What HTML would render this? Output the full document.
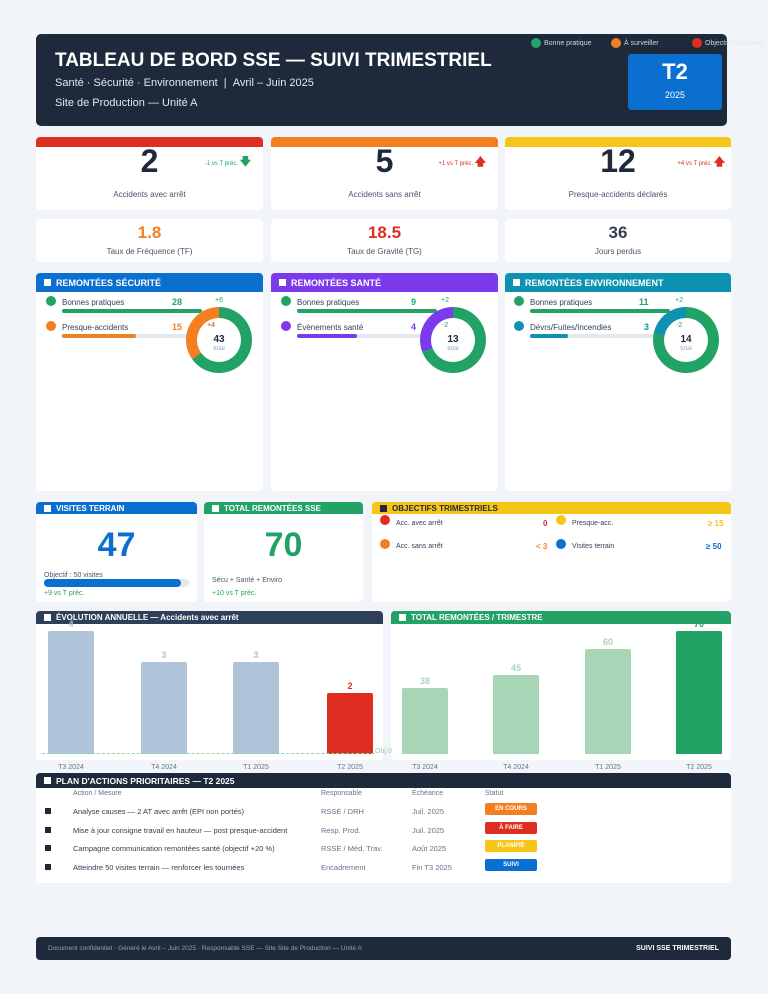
<!DOCTYPE html>
<html><head><meta charset="utf-8"><style>
*{box-sizing:border-box;margin:0;padding:0}
body{width:768px;height:994px;background:#f1f5f9;font-family:"Liberation Sans",sans-serif;position:relative;overflow:hidden;color:#1e293b}
.a{position:absolute}
.card{position:absolute;background:#fff;border-radius:4px;overflow:hidden}
.hd{position:absolute;left:0;right:0;top:0;color:#fff;font-weight:bold;font-size:9px;padding-left:8px;display:flex;align-items:center}
.sq{display:inline-block;width:7px;height:7px;background:#fff;margin-right:5px}
.c{text-align:center;left:0;right:0}
.dot{position:absolute;width:10px;height:10px;border-radius:50%}
.t{position:absolute;font-size:8px;color:#334155;white-space:nowrap}
.bar{position:absolute;height:4px;border-radius:2px;background:#e2e8f0}
.bar i{position:absolute;left:0;top:0;bottom:0;border-radius:2px}
.dn{position:absolute;width:66px;height:66px;border-radius:50%}
.dn::after{content:"";position:absolute;left:11px;top:11px;width:44px;height:44px;border-radius:50%;background:#fff}
.dl{position:absolute;z-index:2;text-align:center;width:40px}
.badge{position:absolute;width:52px;height:12px;border-radius:2px;color:#fff;font-size:6px;font-weight:bold;text-align:center;line-height:12px}
.vb{position:absolute;border-radius:2px 2px 0 0}
.vl{position:absolute;font-size:9px;font-weight:bold;text-align:center;width:46px}
.xl{position:absolute;font-size:7px;color:#64748b;text-align:center;width:60px;top:764px}
</style></head><body>

<!-- header -->
<div class="a" style="left:36px;top:34px;width:691px;height:92px;background:#1e293b;border-radius:5px"></div>
<div class="a" style="left:55px;top:50px;color:#fff;font-size:19px;font-weight:bold">TABLEAU DE BORD SSE — SUIVI TRIMESTRIEL</div>
<div class="a" style="left:55px;top:77px;color:#e2e8f0;font-size:11px">Santé · Sécurité · Environnement &nbsp;| &nbsp;Avril – Juin 2025</div>
<div class="a" style="left:55px;top:97px;color:#e2e8f0;font-size:11px">Site de Production — Unité A</div>
<div class="a" style="left:628px;top:54px;width:94px;height:56px;background:#0b6fd0;border-radius:3px;color:#fff;text-align:center">
<div style="font-size:22px;font-weight:bold;margin-top:5px">T2</div><div style="font-size:9px;margin-top:5px">2025</div></div>
<div class="dot" style="left:531px;top:38px;background:#22a365"></div><div class="t" style="left:544px;top:40px;color:#cbd5e1;font-size:7px">Bonne pratique</div>
<div class="dot" style="left:611px;top:38px;background:#f47f20"></div><div class="t" style="left:624px;top:40px;color:#cbd5e1;font-size:7px">À surveiller</div>
<div class="dot" style="left:692px;top:38px;background:#e02d22"></div><div class="t" style="left:705px;top:40px;color:#cbd5e1;font-size:7px">Objectif <span style="color:#e2e8f0">non atteint</span></div>

<!-- KPI row1 -->
<div class="card" style="left:36px;top:137px;width:227px;height:73px"><div class="a" style="left:0;right:0;top:0;height:10px;background:#e02d22"></div>
<div class="a c" style="top:143px;top:6px;font-size:32px;font-weight:bold">2</div>
<div class="a" style="right:12px;top:16px;font-size:6px;color:#22a365">-1 vs T préc. <b style="font-size:11px">&#129095;</b></div>
<div class="a c" style="top:53px;font-size:8px;color:#475569">Accidents avec arrêt</div></div>
<div class="card" style="left:271px;top:137px;width:227px;height:73px"><div class="a" style="left:0;right:0;top:0;height:10px;background:#f47f20"></div>
<div class="a c" style="top:6px;font-size:32px;font-weight:bold">5</div>
<div class="a" style="right:12px;top:16px;font-size:6px;color:#e02d22">+1 vs T préc. <b style="font-size:11px">&#129093;</b></div>
<div class="a c" style="top:53px;font-size:8px;color:#475569">Accidents sans arrêt</div></div>
<div class="card" style="left:505px;top:137px;width:226px;height:73px"><div class="a" style="left:0;right:0;top:0;height:10px;background:#f5c518"></div>
<div class="a c" style="top:6px;font-size:32px;font-weight:bold">12</div>
<div class="a" style="right:6px;top:16px;font-size:6px;color:#e02d22">+4 vs T préc. <b style="font-size:11px">&#129093;</b></div>
<div class="a c" style="top:53px;font-size:8px;color:#475569">Presque-accidents déclarés</div></div>

<!-- KPI row2 -->
<div class="card" style="left:36px;top:219px;width:227px;height:43px"><div class="a c" style="top:4px;font-size:17px;font-weight:bold;color:#f47f20">1.8</div><div class="a c" style="top:28px;font-size:8px;color:#475569">Taux de Fréquence (TF)</div></div>
<div class="card" style="left:271px;top:219px;width:227px;height:43px"><div class="a c" style="top:4px;font-size:17px;font-weight:bold;color:#e02d22">18.5</div><div class="a c" style="top:28px;font-size:8px;color:#475569">Taux de Gravité (TG)</div></div>
<div class="card" style="left:505px;top:219px;width:226px;height:43px"><div class="a c" style="top:4px;font-size:17px;font-weight:bold;color:#334155">36</div><div class="a c" style="top:28px;font-size:8px;color:#475569">Jours perdus</div></div>

<!-- Section cards -->
<div class="card" style="left:36px;top:273px;width:227px;height:218px"><div class="hd" style="height:19px;background:#0b6fd0"><span class="sq"></span>REMONTÉES SÉCURITÉ</div></div>
<div class="card" style="left:271px;top:273px;width:227px;height:218px"><div class="hd" style="height:19px;background:#7c3aed"><span class="sq"></span>REMONTÉES SANTÉ</div></div>
<div class="card" style="left:505px;top:273px;width:226px;height:218px"><div class="hd" style="height:19px;background:#0e92b1"><span class="sq"></span>REMONTÉES ENVIRONNEMENT</div></div>

<!-- sec 1 -->
<div class="dot" style="left:46px;top:296px;background:#22a365"></div><div class="t" style="left:62px;top:298px">Bonnes pratiques</div><div class="t" style="left:172px;top:297px;font-weight:bold;color:#22a365;font-size:9px">28</div>
<div class="bar" style="left:62px;top:309px;width:140px"><i style="width:140px;background:#22a365"></i></div>
<div class="dot" style="left:46px;top:321px;background:#f47f20"></div><div class="t" style="left:62px;top:323px">Presque-accidents</div><div class="t" style="left:172px;top:322px;font-weight:bold;color:#f47f20;font-size:9px">15</div>
<div class="bar" style="left:62px;top:334px;width:140px"><i style="width:74px;background:#f47f20"></i></div>
<div class="dn" style="left:186px;top:307px;background:conic-gradient(#22a365 0 234deg,#f47f20 234deg 360deg)"></div>
<div class="dl" style="left:199px;top:297px;font-size:7px;color:#22a365">+6</div>
<div class="dl" style="left:191px;top:322px;font-size:7px;color:#e02d22">+4</div>
<div class="dl" style="left:199px;top:334px;font-size:10px;font-weight:bold">43</div>
<div class="dl" style="left:199px;top:346px;font-size:6px;color:#94a3b8">total</div>

<!-- sec 2 -->
<div class="dot" style="left:281px;top:296px;background:#22a365"></div><div class="t" style="left:297px;top:298px">Bonnes pratiques</div><div class="t" style="left:411px;top:297px;font-weight:bold;color:#22a365;font-size:9px">9</div>
<div class="bar" style="left:297px;top:309px;width:140px"><i style="width:140px;background:#22a365"></i></div>
<div class="dot" style="left:281px;top:321px;background:#7c3aed"></div><div class="t" style="left:297px;top:323px">Évènements santé</div><div class="t" style="left:411px;top:322px;font-weight:bold;color:#7c3aed;font-size:9px">4</div>
<div class="bar" style="left:297px;top:334px;width:140px"><i style="width:60px;background:#7c3aed"></i></div>
<div class="dn" style="left:420px;top:307px;background:conic-gradient(#22a365 0 249deg,#7c3aed 249deg 360deg)"></div>
<div class="dl" style="left:425px;top:297px;font-size:7px;color:#22a365">+2</div>
<div class="dl" style="left:425px;top:322px;font-size:7px;color:#22a365">-2</div>
<div class="dl" style="left:433px;top:334px;font-size:10px;font-weight:bold">13</div>
<div class="dl" style="left:433px;top:346px;font-size:6px;color:#94a3b8">total</div>

<!-- sec 3 -->
<div class="dot" style="left:514px;top:296px;background:#22a365"></div><div class="t" style="left:530px;top:298px">Bonnes pratiques</div><div class="t" style="left:639px;top:297px;font-weight:bold;color:#22a365;font-size:9px">11</div>
<div class="bar" style="left:530px;top:309px;width:140px"><i style="width:140px;background:#22a365"></i></div>
<div class="dot" style="left:514px;top:321px;background:#0e92b1"></div><div class="t" style="left:530px;top:323px">Dévrs/Fuites/Incendies</div><div class="t" style="left:644px;top:322px;font-weight:bold;color:#0e92b1;font-size:9px">3</div>
<div class="bar" style="left:530px;top:334px;width:140px"><i style="width:38px;background:#0e92b1"></i></div>
<div class="dn" style="left:653px;top:307px;background:conic-gradient(#22a365 0 283deg,#0e92b1 283deg 360deg)"></div>
<div class="dl" style="left:659px;top:297px;font-size:7px;color:#22a365">+2</div>
<div class="dl" style="left:659px;top:322px;font-size:7px;color:#22a365">-2</div>
<div class="dl" style="left:666px;top:334px;font-size:10px;font-weight:bold">14</div>
<div class="dl" style="left:666px;top:346px;font-size:6px;color:#94a3b8">total</div>

<!-- row 3 -->
<div class="card" style="left:36px;top:502px;width:161px;height:100px"><div class="hd" style="height:12px;background:#0b6fd0;font-size:8px"><span class="sq"></span>VISITES TERRAIN</div>
<div class="a c" style="top:24px;font-size:34px;font-weight:bold;color:#0b6fd0">47</div>
<div class="a" style="left:8px;top:70px;font-size:7px;color:#475569">Objectif : 50 visites</div>
<div class="a" style="left:8px;top:77px;width:145px;height:8px;border-radius:4px;background:#e2e8f0"><div style="width:137px;height:8px;border-radius:4px;background:#0b6fd0"></div></div>
<div class="a" style="left:8px;top:88px;font-size:7px;color:#22a365">+9 vs T préc.</div></div>
<div class="card" style="left:204px;top:502px;width:159px;height:100px"><div class="hd" style="height:12px;background:#22a365;font-size:8px"><span class="sq"></span>TOTAL REMONTÉES SSE</div>
<div class="a c" style="top:24px;font-size:34px;font-weight:bold;color:#22a365">70</div>
<div class="a" style="left:8px;top:75px;font-size:7px;color:#475569">Sécu + Santé + Enviro</div>
<div class="a" style="left:8px;top:88px;font-size:7px;color:#22a365">+10 vs T préc.</div></div>
<div class="card" style="left:372px;top:502px;width:359px;height:100px"><div class="hd" style="height:12px;background:#f5c518;font-size:8px;color:#1e293b"><span class="sq" style="background:#1e293b"></span>OBJECTIFS TRIMESTRIELS</div>
<div class="dot" style="left:8px;top:13px;background:#e02d22"></div><div class="t" style="left:24px;top:18px;font-size:7px">Acc. avec arrêt</div><div class="t" style="left:171px;top:17px;font-size:8px;font-weight:bold;color:#e02d22">0</div>
<div class="dot" style="left:184px;top:13px;background:#f5c518"></div><div class="t" style="left:200px;top:18px;font-size:7px">Presque-acc.</div><div class="t" style="left:336px;top:17px;font-size:8px;font-weight:bold;color:#f5c518">≥ 15</div>
<div class="dot" style="left:8px;top:37px;background:#f47f20"></div><div class="t" style="left:24px;top:41px;font-size:7px">Acc. sans arrêt</div><div class="t" style="left:164px;top:40px;font-size:8px;font-weight:bold;color:#f47f20">˂ 3</div>
<div class="dot" style="left:184px;top:37px;background:#0b6fd0"></div><div class="t" style="left:200px;top:41px;font-size:7px">Visites terrain</div><div class="t" style="left:334px;top:40px;font-size:8px;font-weight:bold;color:#0b6fd0">≥ 50</div></div>

<!-- charts -->
<div class="card" style="left:36px;top:611px;width:347px;height:149px"><div class="hd" style="height:13px;background:#2e3f5a;font-size:8px"><span class="sq"></span>ÉVOLUTION ANNUELLE — Accidents avec arrêt</div></div>
<div class="card" style="left:391px;top:611px;width:340px;height:149px"><div class="hd" style="height:13px;background:#22a365;font-size:8px"><span class="sq"></span>TOTAL REMONTÉES / TRIMESTRE</div></div>

<div class="vb" style="left:48px;top:631px;width:46px;height:123px;background:#b0c4d9"></div><div class="vl" style="left:48px;top:619px;color:#b0c4d9">4</div>
<div class="vb" style="left:141px;top:662px;width:46px;height:92px;background:#b0c4d9"></div><div class="vl" style="left:141px;top:650px;color:#b0c4d9">3</div>
<div class="vb" style="left:233px;top:662px;width:46px;height:92px;background:#b0c4d9"></div><div class="vl" style="left:233px;top:650px;color:#b0c4d9">3</div>
<div class="vb" style="left:327px;top:693px;width:46px;height:61px;background:#e02d22"></div><div class="vl" style="left:327px;top:681px;color:#e02d22">2</div>
<div class="a" style="left:42px;top:753px;width:332px;border-top:1.5px dashed #8fd1ad"></div>
<div class="a" style="left:375px;top:748px;font-size:7px;color:#8fd1ad">Obj.0</div>

<div class="vb" style="left:402px;top:688px;width:46px;height:66px;background:#a8d5b5"></div><div class="vl" style="left:402px;top:676px;color:#a8d5b5">38</div>
<div class="vb" style="left:493px;top:675px;width:46px;height:79px;background:#a8d5b5"></div><div class="vl" style="left:493px;top:663px;color:#a8d5b5">45</div>
<div class="vb" style="left:585px;top:649px;width:46px;height:105px;background:#a8d5b5"></div><div class="vl" style="left:585px;top:637px;color:#a8d5b5">60</div>
<div class="vb" style="left:676px;top:631px;width:46px;height:123px;background:#22a365"></div><div class="vl" style="left:676px;top:619px;color:#22a365">70</div>

<div class="xl" style="left:41px">T3 2024</div><div class="xl" style="left:134px">T4 2024</div><div class="xl" style="left:226px">T1 2025</div><div class="xl" style="left:320px">T2 2025</div>
<div class="xl" style="left:395px">T3 2024</div><div class="xl" style="left:486px">T4 2024</div><div class="xl" style="left:578px">T1 2025</div><div class="xl" style="left:669px">T2 2025</div>

<!-- plan -->
<div class="card" style="left:36px;top:773px;width:695px;height:110px"><div class="hd" style="height:15px;background:#1e293b;font-size:8.5px"><span class="sq"></span>PLAN D'ACTIONS PRIORITAIRES — T2 2025</div>
<div class="t" style="left:37px;top:17px;font-size:7px;color:#64748b">Action / Mesure</div><div class="t" style="left:285px;top:17px;font-size:7px;color:#64748b">Responsable</div><div class="t" style="left:376px;top:17px;font-size:7px;color:#64748b">Échéance</div><div class="t" style="left:449px;top:17px;font-size:7px;color:#64748b">Statut</div>
<div class="a" style="left:9px;top:35px;width:6px;height:6px;background:#1e293b"></div><div class="t" style="left:37px;top:34px;font-size:7.5px">Analyse causes — 2 AT avec arrêt (EPI non portés)</div><div class="t" style="left:285px;top:34px;font-size:7.5px;color:#64748b">RSSE / DRH</div><div class="t" style="left:376px;top:34px;font-size:7.5px;color:#64748b">Juil. 2025</div><div class="badge" style="left:449px;top:30px;background:#f47f20">EN COURS</div>
<div class="a" style="left:9px;top:54px;width:6px;height:6px;background:#1e293b"></div><div class="t" style="left:37px;top:53px;font-size:7.5px">Mise à jour consigne travail en hauteur — post presque-accident</div><div class="t" style="left:285px;top:53px;font-size:7.5px;color:#64748b">Resp. Prod.</div><div class="t" style="left:376px;top:53px;font-size:7.5px;color:#64748b">Juil. 2025</div><div class="badge" style="left:449px;top:49px;background:#e02d22">À FAIRE</div>
<div class="a" style="left:9px;top:72px;width:6px;height:6px;background:#1e293b"></div><div class="t" style="left:37px;top:71px;font-size:7.5px">Campagne communication remontées santé (objectif +20 %)</div><div class="t" style="left:285px;top:71px;font-size:7.5px;color:#64748b">RSSE / Méd. Trav.</div><div class="t" style="left:376px;top:71px;font-size:7.5px;color:#64748b">Août 2025</div><div class="badge" style="left:449px;top:67px;background:#f5c518">PLANIFIÉ</div>
<div class="a" style="left:9px;top:91px;width:6px;height:6px;background:#1e293b"></div><div class="t" style="left:37px;top:90px;font-size:7.5px">Atteindre 50 visites terrain — renforcer les tournées</div><div class="t" style="left:285px;top:90px;font-size:7.5px;color:#64748b">Encadrement</div><div class="t" style="left:376px;top:90px;font-size:7.5px;color:#64748b">Fin T3 2025</div><div class="badge" style="left:449px;top:86px;background:#0b6fd0">SUIVI</div>
</div>

<!-- footer -->
<div class="a" style="left:36px;top:937px;width:695px;height:23px;background:#1e293b;border-radius:4px"></div>
<div class="a" style="left:48px;top:945px;font-size:6.5px;color:#94a3b8">Document confidentiel · Généré le Avril – Juin 2025 · Responsable SSE — Site Site de Production — Unité A</div>
<div class="a" style="right:49px;top:945px;font-size:7px;font-weight:bold;color:#fff">SUIVI SSE TRIMESTRIEL</div>
</body></html>
